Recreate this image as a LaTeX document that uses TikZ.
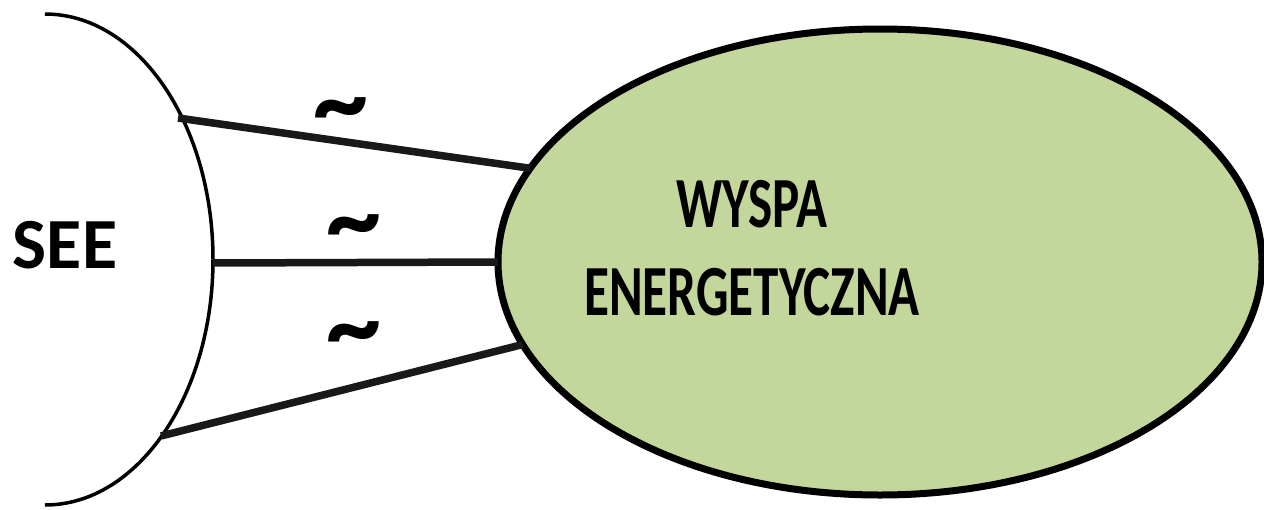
\documentclass[tikz,border=0pt]{standalone}
\usepackage{fontspec}
\setmainfont{Carlito}
\usetikzlibrary{shapes.geometric}
\definecolor{islandgreen}{RGB}{195,214,155}
\tikzset{
  lbl/.style={font=\fontsize{72}{88}\selectfont\bfseries, align=center, inner sep=0pt},
  tld/.style={font=\fontsize{110}{110}\selectfont\bfseries, inner sep=0pt},
  feeder/.style={line width=7.5pt, draw=black!90},
}
\begin{document}
\begin{tikzpicture}[x=1pt,y=-1pt]
\useasboundingbox (0,0) rectangle (1264,509);
% grid arc (SEE)
\draw[line width=3.5pt] (45,14) arc[start angle=-90, end angle=90, x radius=168, y radius=245.5];
\coordinate (a1) at (178,118);
\coordinate (a2) at (213,263);
\coordinate (a3) at (161,436);
% energy island
\node[ellipse, draw, line width=7pt, fill=islandgreen, minimum width=764pt, minimum height=466pt, inner sep=0pt, outer sep=0pt] (wyspa) at (880,262) {};
\node[lbl] (wtxt) at (752,248) {\scalebox{0.71}[1]{WYSPA}\\\scalebox{0.71}[1]{ENERGETYCZNA}};
\node[lbl] (see) at (65,245) {SEE};
% feeders
\draw[feeder] (a1) -- (wyspa.165.5);
\draw[feeder] (a2) -- (wyspa.west);
\draw[feeder] (a3) -- (wyspa.193.5);
% tildes
\node[tld] (t1) at (341,118) {\textasciitilde};
\node[tld] (t2) at (354,235) {\textasciitilde};
\node[tld] (t3) at (354,342) {\textasciitilde};
\end{tikzpicture}
\end{document}
